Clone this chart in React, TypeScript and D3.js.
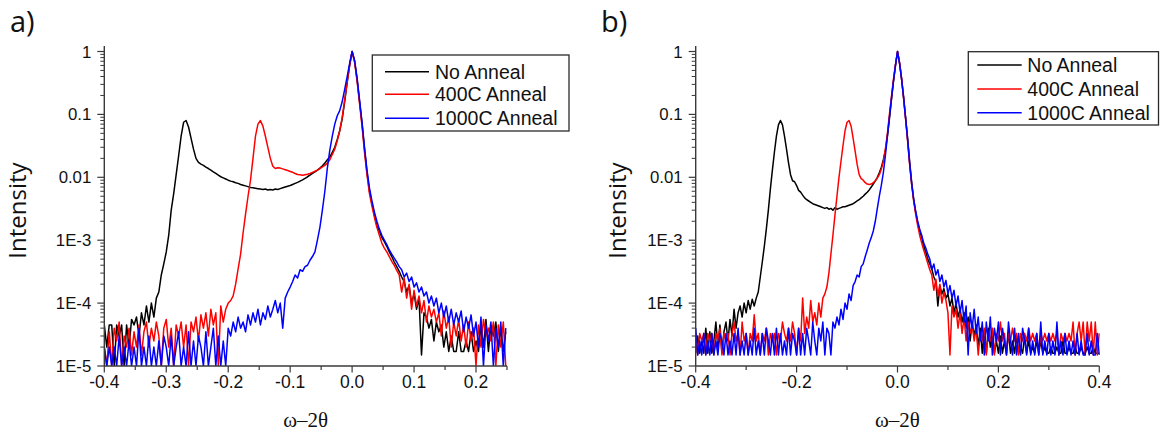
import React from 'react';
import * as d3 from 'd3';

const SERIES_NAMES = ['No Anneal', '400C Anneal', '1000C Anneal'];
const SERIES_COLORS = ['#000000', '#ff0000', '#0000ff'];
const X_START = -0.4;
const X_STEP = 0.004;

// Panel a) : x from -0.4 to 0.248 (step 0.004)
const aBlack = [
  4.5e-5, 2e-5, 4.5e-5, 4.5e-5, 1e-5, 4.5e-5, 3e-5, 4.5e-5, 1e-5, 4.5e-5,
  2e-5, 5.5e-5, 4.5e-5, 6e-5, 3e-5, 7e-5, 4.5e-5, 9e-5, 5e-5, 1e-4,
  6e-5, 1.2e-4, 1.5e-4, 2.8e-4, 4.2e-4, 6.5e-4, 1.2e-3, 3e-3, 5.5e-3, 1.1e-2,
  0.022, 0.045, 0.075, 0.08, 0.063, 0.042, 0.028, 0.02, 0.0172, 0.0162,
  0.0155, 0.0145, 0.0138, 0.013, 0.0122, 0.0115, 0.0108, 0.0102, 0.0098, 0.0094,
  0.009, 0.0087, 0.0085, 0.0082, 0.008, 0.0077, 0.0075, 0.0073, 0.0071, 0.0069,
  0.0068, 0.0067, 0.0066, 0.0065, 0.0064, 0.0065, 0.0063, 0.0064, 0.0063, 0.0065,
  0.0064, 0.0066, 0.0068, 0.007, 0.0072, 0.0074, 0.0077, 0.008, 0.0083, 0.0087,
  0.0091, 0.0096, 0.0102, 0.0108, 0.0115, 0.0122, 0.013, 0.014, 0.0152, 0.0168,
  0.019, 0.021, 0.025, 0.03, 0.04, 0.055, 0.085, 0.16, 0.32, 0.6,
  1, 0.7, 0.36, 0.16, 0.072, 0.028, 0.012, 0.006, 0.0039, 0.0025,
  0.0017, 0.0014, 0.0011, 9.5e-4, 8e-4, 6.5e-4, 5.5e-4, 4.5e-4, 3.8e-4, 3.2e-4,
  2.6e-4, 2.2e-4, 1.5e-4, 1.9e-4, 1e-4, 1.4e-4, 8e-5, 1.2e-4, 1.5e-5, 7e-5,
  6e-5, 4e-5, 5.5e-5, 2.5e-5, 5e-5, 3.5e-5, 4.5e-5, 2e-5, 3.5e-5, 1.7e-5,
  3e-5, 1.7e-5, 1.7e-5, 3.5e-5, 1.7e-5, 1.7e-5, 2.5e-5, 1.7e-5, 3.5e-5, 1.7e-5,
  2.5e-5, 1.7e-5, 4.5e-5, 2e-5, 5.5e-5, 1.7e-5, 4.5e-5, 3e-5, 5e-5, 1.7e-5,
  4e-5, 1.7e-5, 3.5e-5,
];
const aRed = [
  2e-5, 1e-5, 3.5e-5, 1e-5, 4e-5, 2.5e-5, 5e-5, 1e-5, 3e-5, 2e-5,
  4e-5, 1.5e-5, 3.5e-5, 2e-5, 4.5e-5, 1.5e-5, 3.5e-5, 5e-5, 2e-5, 4e-5,
  2.5e-5, 5e-5, 3e-5, 1e-5, 4e-5, 5.5e-5, 2e-5, 4e-5, 1e-5, 4.5e-5,
  3e-5, 5e-5, 2e-5, 4.5e-5, 1e-5, 5e-5, 3.5e-5, 6e-5, 2.5e-5, 6.5e-5,
  4e-5, 7e-5, 3e-5, 8e-5, 4.5e-5, 7e-5, 1e-5, 9e-5, 5e-5, 8e-5,
  1e-4, 1.1e-4, 1.3e-4, 2e-4, 3.5e-4, 6e-4, 1.3e-3, 2.6e-3, 5e-3, 9e-3,
  0.02, 0.045, 0.07, 0.08, 0.065, 0.045, 0.03, 0.02, 0.015, 0.0138,
  0.0142, 0.014, 0.0136, 0.0132, 0.0128, 0.0124, 0.012, 0.0115, 0.0111, 0.011,
  0.0108, 0.011, 0.0112, 0.0115, 0.012, 0.0125, 0.013, 0.0138, 0.0146, 0.0155,
  0.0168, 0.019, 0.023, 0.028, 0.038, 0.055, 0.09, 0.17, 0.33, 0.6,
  1, 0.68, 0.34, 0.15, 0.065, 0.025, 0.011, 0.0055, 0.0035, 0.0023,
  0.0016, 0.0012, 9e-4, 7.5e-4, 6.5e-4, 5.5e-4, 4.6e-4, 4e-4, 3.3e-4, 2.8e-4,
  1.5e-4, 2.5e-4, 1.2e-4, 2e-4, 8e-5, 1.6e-4, 9e-5, 1.3e-4, 7e-5, 1.1e-4,
  5e-5, 9e-5, 6e-5, 8e-5, 5e-5, 7e-5, 3e-5, 7.5e-5, 4e-5, 6e-5,
  2e-5, 5e-5, 3e-5, 5.5e-5, 2.5e-5, 4.5e-5, 2e-5, 5e-5, 2.5e-5, 4e-5,
  1e-5, 4.5e-5, 2e-5, 5.5e-5, 3e-5, 4e-5, 2.5e-5, 5e-5, 1e-5, 4.5e-5,
  2e-5, 5e-5, 1e-5,
];
const aBlue = [
  2e-5, 1e-5, 2e-5, 1e-5, 2e-5, 1e-5, 3e-5, 1e-5, 2e-5, 1e-5,
  2.5e-5, 1e-5, 2e-5, 1e-5, 4e-5, 1e-5, 2e-5, 1e-5, 3e-5, 1e-5,
  2e-5, 1e-5, 2.5e-5, 1e-5, 3e-5, 2e-5, 1e-5, 3e-5, 1e-5, 2e-5,
  3.5e-5, 1e-5, 2e-5, 1e-5, 3.5e-5, 1e-5, 2.5e-5, 1e-5, 3e-5, 2e-5,
  1e-5, 3.5e-5, 1e-5, 2e-5, 4e-5, 1e-5, 3e-5, 1e-5, 2.5e-5, 1e-5,
  4e-5, 3e-5, 5e-5, 3.5e-5, 6e-5, 4e-5, 5e-5, 3.5e-5, 6.5e-5, 4.5e-5,
  7e-5, 5e-5, 8e-5, 4.5e-5, 7e-5, 5.5e-5, 9e-5, 6e-5, 8e-5, 1.1e-4,
  7e-5, 1e-4, 4e-5, 1.2e-4, 1.5e-4, 1.8e-4, 2.2e-4, 2.8e-4, 2.5e-4, 3.4e-4,
  3.2e-4, 3.8e-4, 4e-4, 4.8e-4, 5.5e-4, 6.5e-4, 1e-3, 1.6e-3, 3e-3, 6e-3,
  0.014, 0.027, 0.045, 0.07, 0.095, 0.115, 0.16, 0.25, 0.4, 0.65,
  1, 0.72, 0.38, 0.17, 0.075, 0.03, 0.013, 0.0068, 0.0042, 0.0028,
  0.002, 0.0015, 0.0012, 1e-3, 8.5e-4, 7e-4, 6e-4, 5.2e-4, 4.5e-4, 3.8e-4,
  3.4e-4, 2.6e-4, 3e-4, 2.2e-4, 2.6e-4, 1.8e-4, 2.1e-4, 1.5e-4, 1.8e-4, 1.3e-4,
  1.5e-4, 1e-4, 1.3e-4, 9e-5, 1.2e-4, 7e-5, 1e-4, 6e-5, 9e-5, 5e-5,
  8e-5, 4.5e-5, 7e-5, 5e-5, 7.5e-5, 3.5e-5, 6e-5, 4e-5, 6.5e-5, 3e-5,
  5e-5, 2e-5, 6e-5, 1e-5, 4.5e-5, 2.5e-5, 5e-5, 1e-5, 4e-5, 2e-5,
  5e-5, 1e-5, 4e-5,
];

// Panel b) : x from -0.4 to 0.4 (step 0.004)
const bBlack = [
  1.6e-5, 3e-5, 1.6e-5, 2.5e-5, 1.6e-5, 4e-5, 1.6e-5, 3.5e-5, 1.6e-5, 2.5e-5,
  5e-5, 2e-5, 4.5e-5, 1.6e-5, 3.5e-5, 5e-5, 2.5e-5, 5.5e-5, 3e-5, 8e-5,
  4e-5, 7e-5, 9e-5, 6e-5, 1e-4, 7e-5, 1.1e-4, 8e-5, 1.15e-4, 9e-5,
  1.2e-4, 1.5e-4, 2.6e-4, 4.5e-4, 8e-4, 1.5e-3, 3e-3, 6.5e-3, 0.013, 0.025,
  0.045, 0.068, 0.08, 0.068, 0.045, 0.028, 0.017, 0.011, 0.0088, 0.0085,
  0.0074, 0.0062, 0.0058, 0.0052, 0.0047, 0.0044, 0.0042, 0.004, 0.0038, 0.0037,
  0.0036, 0.0035, 0.0034, 0.0033, 0.0032, 0.0033, 0.0031, 0.0032, 0.003, 0.0033,
  0.0031, 0.0032, 0.0033, 0.0034, 0.0034, 0.0035, 0.0036, 0.0037, 0.0038, 0.004,
  0.0042, 0.0044, 0.0047, 0.005, 0.0054, 0.0058, 0.0063, 0.007, 0.0078, 0.0088,
  0.01, 0.0118, 0.0145, 0.019, 0.027, 0.045, 0.085, 0.17, 0.33, 0.6,
  1, 0.65, 0.37, 0.19, 0.09, 0.042, 0.018, 0.0085, 0.0045, 0.0028,
  0.0019, 0.0014, 0.0011, 8e-4, 6.5e-4, 5e-4, 4.2e-4, 3.5e-4, 2.6e-4, 2.2e-4,
  9e-5, 1.9e-4, 1.4e-4, 1.7e-4, 1.2e-4, 1.4e-4, 9e-5, 1.2e-4, 7e-5, 1e-4,
  6e-5, 8e-5, 5e-5, 7e-5, 4e-5, 6e-5, 2.5e-5, 5e-5, 3e-5, 4.5e-5,
  2e-5, 4e-5, 1.6e-5, 3.5e-5, 1.6e-5, 4e-5, 2e-5, 3e-5, 1.6e-5, 2.5e-5,
  1.6e-5, 3e-5, 1.6e-5, 2.5e-5, 1.6e-5, 3.5e-5, 1.6e-5, 2.5e-5, 1.6e-5, 3e-5,
  1.6e-5, 2e-5, 1.6e-5, 3e-5, 1.6e-5, 2.5e-5, 1.6e-5, 2e-5, 1.6e-5, 2.5e-5,
  1.6e-5, 2.5e-5, 1.6e-5, 2e-5, 1.6e-5, 1.6e-5, 2e-5, 1.6e-5, 1.6e-5, 2e-5,
  1.6e-5, 1.6e-5, 2.5e-5, 1.6e-5, 1.6e-5, 2e-5, 1.6e-5, 1.6e-5, 2e-5, 1.6e-5,
  1.6e-5, 2e-5, 1.6e-5, 1.6e-5, 2e-5, 1.6e-5, 1.6e-5, 2e-5, 1.6e-5, 1.6e-5,
  1.6e-5,
];
const bRed = [
  3.3e-5, 1.5e-5, 3.3e-5, 2.5e-5, 3.3e-5, 1.5e-5, 3.3e-5, 2.5e-5, 3.3e-5, 1.5e-5,
  3.3e-5, 2.5e-5, 4e-5, 1.5e-5, 3.3e-5, 2.5e-5, 3.3e-5, 1.5e-5, 3.3e-5, 5e-5,
  2.5e-5, 3.3e-5, 1.5e-5, 5e-5, 2.5e-5, 3.3e-5, 1.5e-5, 3.3e-5, 2.5e-5, 6.5e-5,
  2.5e-5, 3.3e-5, 1.5e-5, 3.3e-5, 2.5e-5, 4e-5, 1.5e-5, 3.3e-5, 2.5e-5, 3.3e-5,
  1.5e-5, 3.3e-5, 2.5e-5, 5e-5, 3.3e-5, 2.5e-5, 4e-5, 2.5e-5, 5e-5, 3.3e-5,
  1.5e-5, 4e-5, 2.5e-5, 1.2e-4, 3.3e-5, 6e-5, 4e-5, 1.1e-4, 5e-5, 7e-5,
  4.5e-5, 1e-4, 6e-5, 1.2e-4, 1.4e-4, 1.8e-4, 3e-4, 6e-4, 1.2e-3, 2.5e-3,
  5e-3, 0.01, 0.018, 0.032, 0.055, 0.075, 0.08, 0.065, 0.042, 0.026,
  0.016, 0.011, 0.0095, 0.009, 0.0082, 0.0078, 0.0077, 0.0078, 0.0082, 0.0088,
  0.0097, 0.011, 0.0135, 0.018, 0.028, 0.05, 0.1, 0.19, 0.36, 0.62,
  1, 0.68, 0.38, 0.18, 0.085, 0.038, 0.016, 0.0078, 0.0042, 0.0026,
  0.0017, 0.0012, 9e-4, 7e-4, 5.5e-4, 4.3e-4, 3.4e-4, 2.8e-4, 1.6e-4, 2.4e-4,
  1.3e-4, 2e-4, 1e-4, 1.5e-4, 1.1e-4, 7e-5, 1.5e-5, 9e-5, 6e-5, 8e-5,
  4e-5, 7e-5, 3.3e-5, 6e-5, 2.5e-5, 5e-5, 3.3e-5, 4.5e-5, 2.5e-5, 4e-5,
  1.5e-5, 3.3e-5, 2.5e-5, 4e-5, 1.5e-5, 3.3e-5, 2.5e-5, 4e-5, 1.5e-5, 3.3e-5,
  2.5e-5, 5e-5, 2.5e-5, 3.3e-5, 1.5e-5, 3.3e-5, 2.5e-5, 4e-5, 2.5e-5, 3.3e-5,
  1.5e-5, 3.3e-5, 2.5e-5, 3.3e-5, 2.5e-5, 4e-5, 2.5e-5, 3.3e-5, 2.5e-5, 3.3e-5,
  1.5e-5, 3.3e-5, 2.5e-5, 3.3e-5, 2.5e-5, 3.3e-5, 2.5e-5, 3.3e-5, 2.5e-5, 3.3e-5,
  1.5e-5, 3.3e-5, 2.5e-5, 3.3e-5, 2.5e-5, 3.3e-5, 2.5e-5, 5e-5, 1.5e-5, 3.3e-5,
  5e-5, 2.5e-5, 5e-5, 1.5e-5, 5e-5, 2.5e-5, 5e-5, 1.5e-5, 5e-5, 1.5e-5,
  3.3e-5,
];
const bBlue = [
  4e-5, 1.5e-5, 2.5e-5, 1.5e-5, 3.3e-5, 1.5e-5, 2.5e-5, 1.5e-5, 3.3e-5, 1.5e-5,
  2.5e-5, 1.5e-5, 3.3e-5, 2.5e-5, 1.5e-5, 3.3e-5, 1.5e-5, 2.5e-5, 1.5e-5, 3.3e-5,
  1.5e-5, 4e-5, 1.5e-5, 2.5e-5, 1.5e-5, 3.3e-5, 1.5e-5, 2.5e-5, 1.5e-5, 4e-5,
  1.5e-5, 2.5e-5, 1.5e-5, 3.3e-5, 1.5e-5, 4e-5, 2.5e-5, 1.5e-5, 3.3e-5, 1.5e-5,
  4e-5, 1.5e-5, 3.3e-5, 1.5e-5, 2.5e-5, 1.5e-5, 4e-5, 1.5e-5, 3.3e-5, 2.5e-5,
  1.5e-5, 4e-5, 1.5e-5, 3.3e-5, 1.5e-5, 4e-5, 2.5e-5, 1.5e-5, 5e-5, 2.5e-5,
  1.5e-5, 4e-5, 2.5e-5, 5e-5, 1.5e-5, 4e-5, 3.3e-5, 1.5e-5, 5e-5, 4e-5,
  6e-5, 4.5e-5, 8e-5, 5.5e-5, 1e-4, 8e-5, 1.4e-4, 1.1e-4, 1.9e-4, 2.2e-4,
  2.8e-4, 2.6e-4, 3.8e-4, 4.2e-4, 5.5e-4, 7e-4, 9e-4, 1.1e-3, 1.4e-3, 2e-3,
  3.2e-3, 5e-3, 7.5e-3, 0.012, 0.022, 0.045, 0.09, 0.18, 0.34, 0.6,
  1, 0.66, 0.37, 0.19, 0.088, 0.04, 0.017, 0.008, 0.0045, 0.0029,
  0.002, 0.0015, 0.0012, 9e-4, 7.5e-4, 6e-4, 5e-4, 3.4e-4, 4.2e-4, 2.8e-4,
  3.4e-4, 2.2e-4, 2.8e-4, 1.8e-4, 2.3e-4, 1.4e-4, 1.9e-4, 1.2e-4, 1.6e-4, 9e-5,
  1.3e-4, 7e-5, 1.1e-4, 5e-5, 9e-5, 1.5e-5, 7e-5, 4e-5, 8e-5, 3.3e-5,
  6e-5, 2.5e-5, 5e-5, 1.5e-5, 5e-5, 2.5e-5, 6e-5, 1.5e-5, 4e-5, 2.5e-5,
  5e-5, 1.5e-5, 4e-5, 2.5e-5, 1.5e-5, 5e-5, 2.5e-5, 1.5e-5, 4e-5, 1.5e-5,
  3.3e-5, 1.5e-5, 4e-5, 2.5e-5, 1.5e-5, 4e-5, 1.5e-5, 2.5e-5, 1.5e-5, 3.3e-5,
  1.5e-5, 5e-5, 1.5e-5, 2.5e-5, 1.5e-5, 3.3e-5, 1.5e-5, 2.5e-5, 1.5e-5, 5e-5,
  1.5e-5, 2.5e-5, 1.5e-5, 3.3e-5, 1.5e-5, 2.5e-5, 1.5e-5, 2.5e-5, 1.5e-5, 3.3e-5,
  1.5e-5, 2.5e-5, 1.5e-5, 1.5e-5, 3.3e-5, 1.5e-5, 2.5e-5, 1.5e-5, 1.5e-5, 3.3e-5,
  1.5e-5,
];

const aXMajor = [-0.4, -0.3, -0.2, -0.1, 0, 0.1, 0.2];
const aXLabels = ['-0.4', '-0.3', '-0.2', '-0.1', '0.0', '0.1', '0.2'];
const aXMinor = [-0.35, -0.25, -0.15, -0.05, 0.05, 0.15, 0.25];
const bXMajor = [-0.4, -0.2, 0, 0.2, 0.4];
const bXLabels = ['-0.4', '-0.2', '0.0', '0.2', '0.4'];
const bXMinor = [-0.3, -0.1, 0.1, 0.3];
const yMajor = [1e-5, 1e-4, 1e-3, 1e-2, 1e-1, 1];
const yLabels = ['1E-5', '1E-4', '1E-3', '0.01', '0.1', '1'];
const yMinorMult = [2, 3, 4, 5, 6, 7, 8, 9];

const Y_BOTTOM = 366;
const Y_ONE = 51.5;
const Y_AXIS_TOP = 46;
const SANS = '"Liberation Sans", Arial, sans-serif';

type Legend = { x0: number; y0: number; x1: number; y1: number; lx1: number; lx2: number; tx: number; rows: number[] };
type Cfg = {
  id: string; letter: string; letterX: number;
  xDomain: [number, number]; xRange: [number, number];
  major: number[]; labels: string[]; minor: number[];
  series: number[][]; legend: Legend; yLabelX: number;
};

function Panel({ cfg }: { cfg: Cfg }) {
  const x = d3.scaleLinear().domain(cfg.xDomain).range(cfg.xRange);
  const y = d3.scaleLog().domain([1e-5, 1]).range([Y_BOTTOM, Y_ONE]);
  const line = d3.line<number>()
    .x((_, i) => x(X_START + i * X_STEP))
    .y((d) => y(Math.max(d, 1e-7)));
  const [x0, x1] = cfg.xRange;
  const yMinor: number[] = [];
  for (let k = 0; k < yMajor.length - 1; k++) {
    for (const m of yMinorMult) yMinor.push(yMajor[k] * m);
  }
  const lg = cfg.legend;
  const axisColor = '#3a3a3a';
  return (
    <g>
      <defs>
        <clipPath id={`clip-${cfg.id}`}>
          <rect x={x0} y={Y_AXIS_TOP} width={x1 - x0 + 0.5} height={Y_BOTTOM - Y_AXIS_TOP} />
        </clipPath>
      </defs>
      <g clipPath={`url(#clip-${cfg.id})`}>
        {cfg.series.map((s, k) => (
          <path key={k} d={line(s) || ''} fill="none" stroke={SERIES_COLORS[k]} strokeWidth={1.5} strokeLinejoin="round" />
        ))}
      </g>
      {/* x axis */}
      <line x1={x0} x2={x1} y1={Y_BOTTOM} y2={Y_BOTTOM} stroke={axisColor} strokeWidth={1.4} />
      {cfg.major.map((v) => (
        <line key={`M${v}`} x1={x(v)} x2={x(v)} y1={Y_BOTTOM} y2={Y_BOTTOM + 6.5} stroke={axisColor} strokeWidth={1.2} />
      ))}
      {cfg.minor.map((v) => (
        <line key={`m${v}`} x1={x(v)} x2={x(v)} y1={Y_BOTTOM} y2={Y_BOTTOM + 4} stroke={axisColor} strokeWidth={1.2} />
      ))}
      {cfg.major.map((v, i) => (
        <text key={`L${v}`} x={x(v)} y={388.3} textAnchor="middle" fontFamily={SANS} fontSize={17.5} fill="#111">
          {cfg.labels[i]}
        </text>
      ))}
      {/* y axis */}
      <line x1={x0} x2={x0} y1={Y_BOTTOM} y2={Y_AXIS_TOP} stroke={axisColor} strokeWidth={1.4} />
      {yMajor.map((v) => (
        <line key={`YM${v}`} x1={x0 - 7} x2={x0} y1={y(v)} y2={y(v)} stroke={axisColor} strokeWidth={1.2} />
      ))}
      {yMinor.map((v) => (
        <line key={`Ym${v}`} x1={x0 - 4} x2={x0} y1={y(v)} y2={y(v)} stroke={axisColor} strokeWidth={1} />
      ))}
      {yMajor.map((v, i) => (
        <text key={`YL${v}`} x={x0 - 13} y={y(v)} dy="0.36em" textAnchor="end" fontFamily={SANS} fontSize={16.8} fill="#111">
          {yLabels[i]}
        </text>
      ))}
      {/* axis titles */}
      <text
        transform={`translate(${cfg.yLabelX},${210.5}) rotate(-90)`}
        textAnchor="middle" fontFamily='"Open Sans", sans-serif' fontSize={24} fill="#111"
      >
        Intensity
      </text>
      <text x={(x0 + x1) / 2} y={427} textAnchor="middle" fontFamily='"Liberation Serif", "Times New Roman", serif' fontSize={21} fill="#111">
        ω–2θ
      </text>
      <text x={cfg.letterX} y={32} fontFamily='"Open Sans", sans-serif' fontSize={29} fill="#111">
        {cfg.letter}
      </text>
      {/* legend */}
      <rect x={lg.x0} y={lg.y0} width={lg.x1 - lg.x0} height={lg.y1 - lg.y0} fill="#fff" stroke="#2a2a2a" strokeWidth={1.3} />
      {SERIES_NAMES.map((name, k) => (
        <g key={name}>
          <line x1={lg.lx1} x2={lg.lx2} y1={lg.rows[k]} y2={lg.rows[k]} stroke={SERIES_COLORS[k]} strokeWidth={1.5} />
          <text x={lg.tx} y={lg.rows[k]} dy="0.36em" fontFamily={SANS} fontSize={19.5} fill="#111">
            {name}
          </text>
        </g>
      ))}
    </g>
  );
}

const panelA: Cfg = {
  id: 'a', letter: 'a)', letterX: 10,
  xDomain: [-0.4, 0.25], xRange: [104.3, 507],
  major: aXMajor, labels: aXLabels, minor: aXMinor,
  series: [aBlack, aRed, aBlue],
  legend: { x0: 372.3, y0: 55, x1: 569, y1: 131, lx1: 385, lx2: 429, tx: 435, rows: [71.7, 94.3, 118.3] },
  yLabelX: 26,
};
const panelB: Cfg = {
  id: 'b', letter: 'b)', letterX: 601,
  xDomain: [-0.4, 0.4], xRange: [695.7, 1099.3],
  major: bXMajor, labels: bXLabels, minor: bXMinor,
  series: [bBlack, bRed, bBlue],
  legend: { x0: 968.3, y0: 51.7, x1: 1158.5, y1: 125, lx1: 977.3, lx2: 1021.7, tx: 1027.3, rows: [65, 89, 112.7] },
  yLabelX: 626,
};

export default function App() {
  return (
    <svg width={1160} height={433} style={{ position: 'absolute', left: 0, top: 0, background: '#fff' }}>
      <rect x={0} y={0} width={1160} height={433} fill="#fff" />
      <Panel cfg={panelA} />
      <Panel cfg={panelB} />
    </svg>
  );
}
